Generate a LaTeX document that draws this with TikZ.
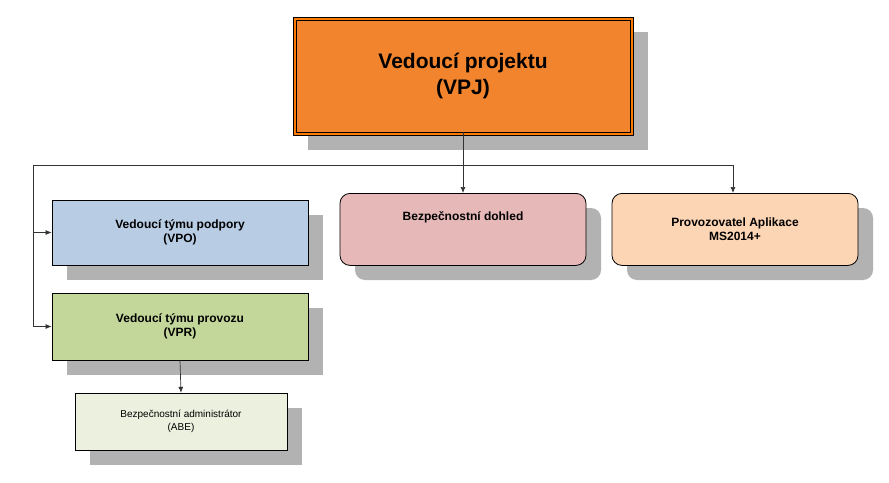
\documentclass[tikz,border=0pt]{standalone}
\usepackage{fontspec}
\setmainfont{Liberation Sans}
\usetikzlibrary{arrows.meta}
\begin{document}
\begin{tikzpicture}[x=1pt,y=-1pt,
  sh/.style={fill=black!30},
  box/.style={draw=black,thick,align=center,font=\bfseries\fontsize{12}{14}\selectfont},
  conn/.style={draw=black!80,line width=0.7pt,-{Latex[length=6pt,width=5pt]}},
  ln/.style={draw=black!80,line width=0.7pt}]
\useasboundingbox (0,0) rectangle (889,482);
% shadows
\fill[sh] (308,32) rectangle (648,150);
\fill[sh] (67,215) rectangle (323,280);
\fill[sh] (67,308) rectangle (323,375);
\fill[sh,rounded corners=10pt] (355,208) rectangle (601,280);
\fill[sh,rounded corners=10pt] (627,208) rectangle (873,280);
\fill[sh] (90,408) rectangle (302,465);
% top
\draw[fill=orange!85!red!90!yellow] (293,17) rectangle (633,135);
\node[draw=black,fill={rgb,255:red,241;green,132;blue,44},minimum width=334pt,minimum height=112pt,align=center,
  font=\fontsize{21}{26}\selectfont\bfseries] (vpj) at (463,76) {Vedoucí projektu\\(VPJ)};
\node[box,fill={rgb,255:red,184;green,204;blue,228},minimum width=256pt,minimum height=65pt] (vpo) at (180,232.5) {Vedoucí týmu podpory\\(VPO)};
\node[box,fill={rgb,255:red,196;green,215;blue,155},minimum width=256pt,minimum height=67pt] (vpr) at (180,326.5) {Vedoucí týmu provozu\\(VPR)};
\node[box,rounded corners=10pt,fill={rgb,255:red,230;green,184;blue,183},minimum width=246pt,minimum height=72pt,anchor=north] (bd) at (463,193) {Bezpečnostní dohled\\[12pt]};
\node[box,rounded corners=10pt,fill={rgb,255:red,252;green,213;blue,180},minimum width=246pt,minimum height=72pt,anchor=north] (pa) at (735,193) {Provozovatel Aplikace\\MS2014+};
\node[draw=black,fill={rgb,255:red,235;green,241;blue,222},minimum width=212pt,minimum height=57pt,align=center,font=\fontsize{10}{13}\selectfont] (abe) at (181,421.5) {Bezpečnostní administrátor\\(ABE)};
% connectors
\coordinate (j) at (463,165);
\coordinate (l) at (33,165);
\coordinate (r) at (733,165);
\draw[ln] (vpj.south) -- (j);
\draw[ln] (l) -- (r);
\draw[conn] (j) -- (bd.north);
\draw[conn] (r) -- (r|-pa.north);
\draw[ln] (l) -- (33,326.5);
\draw[conn] (33,232.5) -- (vpo.west);
\draw[conn] (33,326.5) -- (vpr.west);
\draw[conn] (vpr.south) -- (abe.north);
\end{tikzpicture}
\end{document}
